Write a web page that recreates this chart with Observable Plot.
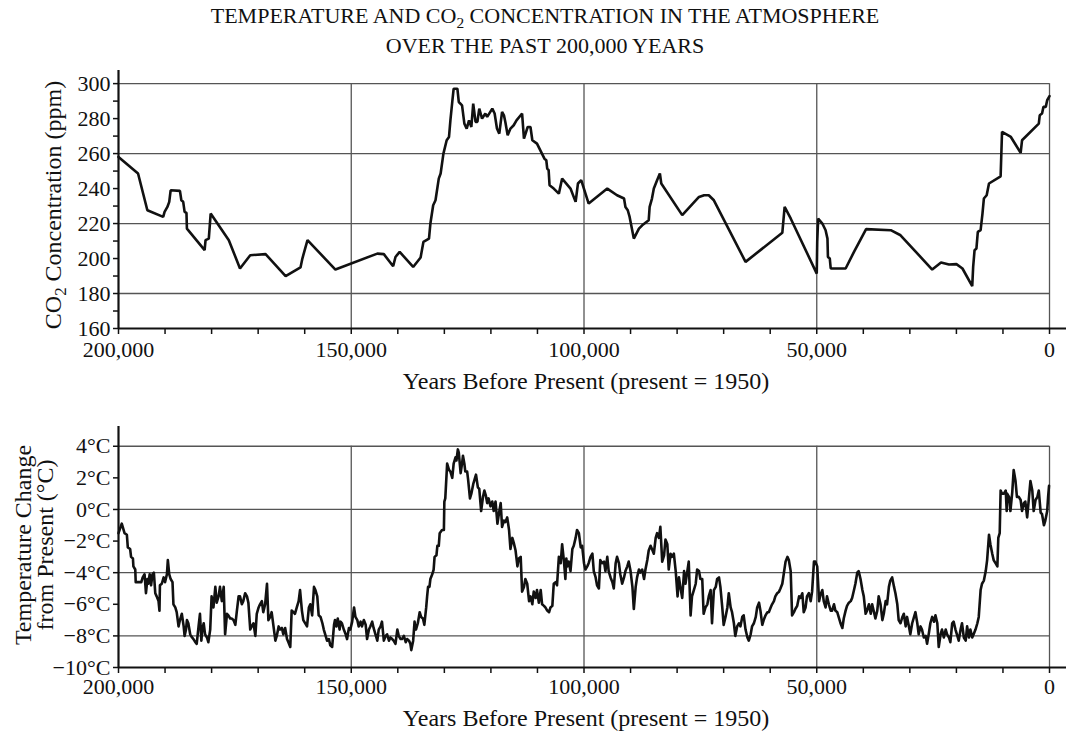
<!DOCTYPE html>
<html>
<head>
<meta charset="utf-8">
<script src="https://cdn.jsdelivr.net/npm/d3@7"></script>
<script src="https://cdn.jsdelivr.net/npm/@observablehq/plot@0.6"></script>
<style>
  body { margin: 0; background: #fff; }
  #wrap { position: relative; width: 1066px; height: 733px; font-family: "Liberation Serif", serif; color: #111; overflow: hidden; }
  .abs { position: absolute; }
  .title { left: -5px; width: 1100px; text-align: center; font-size: 22px; line-height: 22px; white-space: nowrap; }
  .xlab { left: 286px; width: 600px; text-align: center; font-size: 24px; white-space: nowrap; }
  .ylab { font-size: 24px; line-height: 22px; white-space: nowrap; text-align: center; transform: translate(-50%, -50%) rotate(-90deg); }
  sub { font-size: 70%; vertical-align: -0.3em; line-height: 0; }
</style>
</head>
<body>
<div id="wrap">
  <div class="abs title" style="top:5px">TEMPERATURE AND CO<sub>2</sub> CONCENTRATION IN THE ATMOSPHERE</div>
  <div class="abs title" style="top:35px">OVER THE PAST 200,000 YEARS</div>
  <div class="abs" id="top" style="left:0;top:60px"></div>
  <div class="abs" id="bottom" style="left:0;top:400px"></div>
  <div class="abs xlab" style="top:368px">Years Before Present (present = 1950)</div>
  <div class="abs xlab" style="top:705px">Years Before Present (present = 1950)</div>
  <div class="abs ylab" style="left:53px;top:205px">CO<sub>2</sub> Concentration (ppm)</div>
  <div class="abs ylab" style="left:34px;top:545px">Temperature Change<br>from Present (°C)</div>
</div>
<script>
// ---- CO2 record (thousands of years before present, ppm)
const co2Kyr = [200.0,195.8,193.8,190.4,190.1,189.5,189.1,188.8,186.8,186.5,186.1,185.8,185.4,185.3,181.5,181.3,180.6,180.2,176.3,173.9,171.7,168.4,164.1,160.9,160.5,160.0,159.4,153.4,144.4,143.0,141.0,140.5,139.6,136.7,135.1,134.5,133.3,133.0,132.4,131.9,131.2,130.8,130.2,129.5,129.0,128.7,128.3,128.0,127.2,126.9,126.2,125.7,125.2,124.7,124.2,123.8,123.3,122.9,122.5,121.9,121.2,120.8,119.7,119.2,118.7,118.2,117.6,117.2,116.9,116.4,115.8,115.1,114.5,113.3,112.9,112.1,111.5,111.1,110.1,108.5,108.1,107.9,107.6,107.4,106.5,105.4,104.7,102.9,101.8,101.3,100.6,99.0,95.0,92.9,91.4,91.1,90.6,90.2,89.3,88.2,87.5,86.1,85.9,85.4,85.0,84.3,83.7,83.4,78.9,75.3,74.2,73.2,72.1,65.3,57.4,56.9,55.6,50.0,49.9,49.7,48.8,48.1,47.7,47.6,47.2,47.0,43.8,42.0,39.4,34.1,32.0,25.2,23.3,21.6,20.0,18.7,16.6,16.4,16.1,15.7,15.4,14.8,14.4,14.1,13.5,13.0,10.5,10.2,8.3,6.2,5.9,2.3,2.1,1.6,1.3,0.8,0.5,0.0];
const co2Ppm = [258.1,248.6,227.6,223.8,226.7,229.5,232.4,239.0,238.7,233.3,232.4,226.7,226.1,217.1,204.8,210.5,211.4,225.7,210.5,194.3,201.9,202.5,189.9,194.9,200.0,204.8,210.5,193.7,202.8,202.5,195.6,200.9,203.8,195.2,200.6,209.5,211.4,220.0,230.5,233.3,245.7,248.6,260.0,267.6,269.5,279.0,289.5,297.1,297.1,289.5,287.6,277.1,274.3,279.0,275.2,288.6,278.1,278.1,285.7,280.0,282.9,281.0,285.7,282.9,274.3,271.4,283.8,281.9,278.1,270.5,274.3,276.2,279.0,282.9,268.6,275.2,275.2,267.6,265.7,257.1,256.2,251.4,250.5,241.9,240.0,237.1,245.7,240.0,232.4,242.9,244.8,231.4,240.0,236.2,234.3,229.5,227.6,223.8,211.4,217.1,219.0,221.9,229.5,234.3,240.0,244.8,248.6,242.9,224.8,235.2,236.2,236.2,233.3,198.1,214.7,229.5,222.9,191.4,209.5,222.9,220.0,216.2,211.4,200.9,200.0,194.3,194.3,203.8,216.8,216.2,213.3,193.7,197.7,196.6,196.8,194.3,184.2,195.2,204.8,205.7,215.2,216.2,225.7,234.3,236.2,242.9,247.0,272.4,269.5,260.4,267.6,277.1,281.9,282.9,286.7,286.7,290.5,292.8];

// ---- Temperature record (thousands of years before present, °C change from present)
const tempKyr = [200.0,199.3,198.7,198.2,198.0,197.5,197.3,196.9,196.8,196.4,196.3,195.1,194.8,194.4,194.1,193.8,193.6,193.3,193.0,192.7,192.4,192.1,191.8,191.4,191.2,191.1,190.7,190.3,190.0,189.6,189.4,189.1,188.8,188.4,188.2,187.8,187.5,187.1,186.8,186.4,186.0,185.8,185.5,185.3,185.0,184.6,184.2,183.9,183.5,183.2,182.8,182.5,182.2,182.0,181.7,181.4,181.0,180.7,180.3,180.0,179.6,179.2,178.9,178.5,178.2,177.8,177.4,177.1,176.7,176.4,176.0,175.7,175.3,174.9,174.6,174.2,173.9,173.5,173.2,172.8,172.4,172.1,171.7,171.4,171.0,170.6,170.3,169.9,169.6,169.2,168.9,168.5,168.1,167.8,167.4,167.1,166.7,166.3,166.0,165.6,165.3,164.9,164.6,164.2,163.8,163.5,163.1,162.8,162.4,162.1,161.7,161.3,161.0,160.6,160.3,159.5,
159.1,158.8,158.4,158.0,157.7,157.3,157.0,156.6,156.2,155.9,155.5,155.2,154.8,154.5,154.1,153.7,153.5,153.2,152.9,152.5,152.3,152.0,151.6,151.2,150.9,150.5,150.2,149.8,149.4,149.1,148.7,148.4,148.0,147.7,147.3,146.9,146.6,146.2,145.9,145.5,145.2,144.8,144.4,144.1,143.7,143.4,143.0,142.6,142.3,141.9,141.6,141.2,140.9,140.5,140.1,139.8,139.4,139.1,138.7,138.3,138.0,137.6,137.3,137.1,136.7,136.4,136.1,135.7,135.3,135.0,134.6,134.3,133.9,133.7,133.5,133.2,133.0,132.6,132.3,132.1,131.7,131.5,131.2,131.0,130.5,130.1,130.0,129.8,129.4,129.0,128.7,128.3,128.0,127.6,127.4,127.1,126.9,126.5,126.2,126.0,125.7,125.5,125.1,124.9,124.5,124.2,123.8,123.5,123.2,122.8,122.5,122.1,121.7,121.4,121.1,120.8,120.5,120.1,119.7,
119.4,119.0,118.6,118.3,117.9,117.6,117.2,116.9,116.5,116.1,115.8,115.4,115.1,114.7,114.3,114.0,113.6,113.3,112.9,112.6,112.2,111.8,111.5,111.1,110.8,110.4,110.1,109.7,109.3,109.0,108.6,108.3,107.9,107.5,107.2,106.8,106.5,106.1,105.8,105.4,105.0,104.7,104.3,104.0,103.8,103.6,103.3,102.9,102.5,102.2,101.8,101.5,101.1,100.7,100.4,100.0,99.7,99.3,99.0,98.6,98.2,97.9,97.5,97.2,96.8,96.5,96.1,95.7,95.4,95.0,94.7,94.3,93.9,93.6,93.2,92.9,92.5,92.2,91.8,91.4,91.1,90.7,90.4,90.0,89.6,89.3,88.9,88.6,88.2,87.9,87.5,87.1,86.8,86.4,86.1,85.7,85.4,85.0,84.6,84.3,83.9,83.6,83.2,82.8,82.5,82.1,81.8,81.4,81.1,80.7,80.3,79.9,
79.6,79.3,78.9,78.5,78.2,77.8,77.5,77.1,76.8,76.4,76.0,75.7,75.3,75.0,74.6,74.3,73.9,73.5,73.2,72.8,72.5,72.1,71.7,71.4,71.0,70.7,70.3,70.0,69.6,69.2,68.9,68.5,68.2,67.8,67.5,67.1,66.7,66.4,66.0,65.7,65.3,64.9,64.6,64.2,63.9,63.5,63.1,62.8,62.4,62.1,61.7,61.4,61.0,60.6,60.3,59.9,59.6,59.2,58.9,58.5,58.1,57.8,57.4,57.1,56.7,56.3,56.0,55.6,55.3,54.9,54.6,54.2,53.8,53.5,53.1,52.8,52.4,52.1,51.7,51.3,51.0,50.6,50.3,49.9,49.5,49.2,48.8,48.5,48.1,47.8,47.4,47.0,46.7,46.3,46.0,45.6,45.3,44.9,44.5,44.2,43.8,43.5,43.1,42.7,42.4,42.0,41.7,41.3,41.0,40.6,40.2,
39.9,39.5,39.2,38.8,38.4,38.1,37.7,37.4,37.0,36.7,36.3,35.9,35.6,35.2,34.9,34.5,34.2,33.8,33.4,33.1,32.7,32.4,32.0,31.6,31.3,30.9,30.6,30.2,29.9,29.5,29.1,28.8,28.4,28.1,27.7,27.4,27.0,26.6,26.3,25.9,25.6,25.2,24.8,24.5,24.1,23.8,23.4,23.1,22.7,22.3,22.0,21.6,21.3,20.9,20.6,20.2,19.8,19.5,19.1,18.8,18.4,18.0,17.7,17.3,17.0,16.6,16.3,15.9,15.5,15.2,14.8,14.5,14.1,13.7,13.4,13.0,12.7,12.3,12.0,11.6,11.2,11.0,10.7,10.5,10.2,9.8,9.4,9.2,9.1,8.7,8.4,8.0,7.7,7.3,7.0,6.6,6.2,5.9,5.5,5.2,4.8,4.4,4.1,3.7,3.4,3.0,2.6,2.3,1.9,1.6,1.2,0.9,0.5,0.3,0.1];
const tempC = [-1.5,-0.9,-1.5,-1.6,-2.4,-2.5,-3.0,-3.1,-3.6,-3.8,-4.6,-4.6,-4.3,-4.1,-5.3,-4.4,-4.7,-4.1,-4.8,-4.1,-4.0,-5.3,-5.5,-5.8,-6.4,-4.8,-4.7,-4.3,-4.6,-4.1,-3.2,-4.1,-4.4,-4.6,-6.0,-6.2,-6.5,-7.4,-7.0,-6.6,-7.4,-8.0,-7.6,-7.0,-7.2,-7.9,-8.1,-8.2,-8.4,-8.5,-7.4,-6.6,-8.3,-7.6,-7.2,-7.9,-8.1,-8.4,-7.6,-5.5,-6.2,-4.9,-5.9,-5.5,-4.9,-5.8,-4.9,-7.9,-6.6,-6.7,-6.9,-6.9,-7.0,-7.3,-6.5,-5.5,-5.5,-6.0,-5.8,-5.3,-5.5,-5.9,-7.6,-7.4,-7.2,-8.0,-6.6,-6.2,-6.0,-5.8,-6.5,-6.0,-4.7,-7.0,-6.8,-6.5,-7.4,-8.3,-8.0,-7.4,-7.6,-7.5,-7.9,-7.5,-8.2,-8.4,-8.7,-6.4,-6.5,-6.6,-6.2,-5.8,-5.1,-6.4,-7.0,-7.4,
-6.2,-6.0,-6.7,-4.9,-5.1,-5.5,-6.7,-6.8,-7.2,-7.6,-8.0,-8.3,-8.2,-8.6,-8.7,-7.3,-7.0,-7.4,-6.9,-7.6,-7.1,-7.2,-7.6,-7.9,-8.2,-7.5,-7.6,-7.1,-6.2,-6.8,-7.0,-7.4,-7.1,-7.4,-7.0,-7.3,-8.2,-7.6,-7.4,-7.1,-7.5,-7.9,-8.3,-7.6,-7.4,-7.1,-8.3,-8.0,-7.9,-8.3,-8.1,-8.2,-8.3,-8.5,-7.6,-8.0,-8.2,-8.2,-8.0,-8.4,-8.2,-8.3,-8.5,-8.9,-8.3,-7.1,-7.6,-7.2,-6.5,-6.8,-6.9,-7.3,-6.2,-5.5,-4.9,-4.9,-4.4,-4.1,-3.8,-3.0,-2.9,-2.3,-2.3,-1.5,-1.3,-1.3,0.5,0.7,2.9,2.5,2.4,2.0,2.9,3.3,3.1,3.8,3.6,2.3,2.9,3.4,2.9,2.4,2.4,1.9,0.7,1.0,1.6,1.9,2.2,1.4,1.3,-0.1,0.8,1.2,0.9,0.4,0.7,0.2,0.5,
-0.1,0.5,-0.9,-0.3,0.4,-1.1,-0.7,-0.8,-0.5,-1.3,-2.5,-1.8,-2.1,-2.6,-3.6,-3.1,-3.0,-5.2,-4.9,-4.4,-4.7,-5.8,-5.5,-6.0,-5.2,-5.6,-5.1,-5.9,-5.1,-6.0,-6.1,-6.2,-6.4,-6.5,-6.2,-6.1,-4.7,-4.6,-4.8,-3.0,-3.4,-2.2,-3.3,-4.4,-3.1,-3.6,-3.3,-3.9,-2.5,-2.3,-1.8,-1.3,-1.5,-2.4,-2.3,-3.4,-3.8,-3.6,-3.4,-3.0,-2.8,-3.9,-4.3,-4.8,-5.0,-3.2,-3.4,-3.3,-3.9,-3.0,-3.9,-4.3,-4.6,-5.0,-3.4,-3.0,-3.4,-4.1,-4.7,-4.3,-3.9,-3.6,-3.3,-3.9,-4.9,-6.3,-4.9,-4.3,-3.8,-4.0,-3.8,-4.4,-3.8,-3.2,-2.6,-2.3,-2.5,-2.8,-1.8,-1.5,-1.8,-1.1,-3.3,-2.9,-1.9,-2.2,-3.8,-2.8,-3.0,-2.8,-3.9,-5.5,
-4.3,-4.9,-5.6,-3.9,-4.7,-3.9,-3.3,-6.7,-5.5,-5.1,-4.7,-3.8,-3.9,-4.4,-4.4,-6.6,-6.2,-6.0,-5.5,-5.1,-7.2,-5.1,-4.9,-4.4,-4.3,-4.9,-6.2,-7.3,-6.8,-6.2,-5.3,-6.2,-6.5,-7.2,-8.0,-7.4,-7.2,-7.4,-6.8,-6.7,-7.6,-8.1,-8.3,-7.9,-7.4,-7.2,-6.8,-6.2,-5.9,-6.4,-7.3,-7.0,-6.7,-6.5,-6.5,-6.2,-6.0,-5.8,-5.5,-5.3,-5.2,-5.0,-4.7,-4.1,-3.3,-3.0,-3.2,-3.9,-6.7,-6.5,-6.3,-6.1,-5.5,-5.6,-5.3,-6.5,-6.2,-5.5,-5.3,-5.8,-5.2,-3.3,-3.3,-3.6,-5.8,-5.4,-5.1,-5.8,-6.2,-5.5,-6.0,-6.4,-6.4,-6.0,-6.4,-6.5,-6.8,-7.2,-7.5,-6.9,-6.4,-6.1,-5.9,-5.8,-5.6,-5.1,-4.7,-4.0,-3.9,-4.4,-5.1,
-5.5,-6.6,-6.4,-6.0,-6.6,-6.0,-6.5,-6.9,-6.4,-5.5,-6.0,-7.0,-6.6,-5.8,-6.0,-4.9,-4.5,-4.3,-4.9,-5.3,-6.0,-7.0,-7.2,-6.8,-6.6,-7.4,-6.8,-7.4,-7.9,-7.2,-6.8,-6.5,-7.2,-7.9,-7.4,-7.6,-8.1,-8.0,-8.5,-7.8,-7.2,-6.8,-7.1,-6.7,-7.2,-8.7,-7.9,-7.6,-8.1,-7.6,-7.9,-8.1,-8.4,-7.2,-7.1,-7.6,-8.0,-8.3,-7.6,-7.2,-8.1,-8.3,-7.4,-8.1,-7.6,-8.1,-7.9,-7.6,-7.2,-6.8,-5.1,-4.7,-4.5,-3.9,-3.2,-1.6,-2.2,-2.8,-3.2,-3.4,-3.6,-1.8,-1.5,1.2,1.0,1.0,1.2,-0.1,1.0,0.8,-0.1,1.1,2.5,1.8,0.8,0.8,0.6,-0.1,0.4,0.5,-0.5,0.8,1.8,1.2,-0.1,0.6,0.8,1.2,-0.2,-0.3,-1.0,-0.7,-0.1,0.8,1.5];

// ---- Axis ticks and gridlines
const xTicks = d3.range(200000, -1, -10000);
const xLabelEvery = 50000;
const xGrid = [150000, 100000, 50000, 0];
const co2Ticks = d3.range(160, 301, 10);
const co2Grid = [180, 220, 260, 300];
const tempTicks = [4, 2, 0, -2, -4, -6, -8, -10];
const tempGrid = [-8, -4, 0, 4];

const co2Data = co2Kyr.map((k, i) => ({year: k * 1000, ppm: co2Ppm[i]}));
const tempData = tempKyr.map((k, i) => ({year: k * 1000, temp: tempC[i]}));

const INK = "#111";
const GRID = "#555";
const style = {fontFamily: "Liberation Serif", fontSize: "22px", color: INK, background: "transparent", overflow: "visible"};
const fmtX = d => d % xLabelEvery === 0 ? d3.format(",")(d) : "";
const xDomain = [200000, -3650];

const topChart = Plot.plot({
  width: 1066, height: 340,
  marginLeft: 118, marginRight: 0, marginTop: 10, marginBottom: 72,
  style,
  x: {domain: xDomain},
  y: {domain: [160, 307.5]},
  marks: [
    Plot.ruleY(co2Grid, {x1: 200000, x2: 0, stroke: GRID, strokeWidth: 1.3}),
    Plot.ruleX(xGrid, {y1: 160, y2: 300, stroke: GRID, strokeWidth: 1.3}),
    Plot.axisY({ticks: co2Ticks, tickFormat: d => d % 20 === 0 ? String(d) : "", tickSize: 5, tickPadding: 3, label: null, stroke: INK, strokeWidth: 1.5}),
    Plot.axisX({ticks: xTicks, tickFormat: fmtX, tickSize: 6, tickPadding: 7, label: null, stroke: INK, strokeWidth: 1.5}),
    Plot.ruleY([160], {stroke: INK, strokeWidth: 2.2}),
    Plot.ruleX([200000], {stroke: INK, strokeWidth: 2.2}),
    Plot.line(co2Data, {x: "year", y: "ppm", stroke: INK, strokeWidth: 2.6, strokeLinejoin: "miter"})
  ]
});
document.getElementById("top").append(topChart);

const fmtT = d => (d < 0 ? "\u2212" + Math.abs(d) : String(d)) + "°C";
const bottomChart = Plot.plot({
  width: 1066, height: 333,
  marginLeft: 118, marginRight: 0, marginTop: 26, marginBottom: 66,
  style,
  x: {domain: xDomain},
  y: {domain: [-10, 5.25]},
  marks: [
    Plot.ruleY(tempGrid, {x1: 200000, x2: 0, stroke: GRID, strokeWidth: 1.3}),
    Plot.ruleX(xGrid, {y1: -10, y2: 4, stroke: GRID, strokeWidth: 1.3}),
    Plot.axisY({ticks: tempTicks, tickFormat: fmtT, tickSize: 5, tickPadding: 3, label: null, stroke: INK, strokeWidth: 1.5}),
    Plot.axisX({ticks: xTicks, tickFormat: fmtX, tickSize: 6, tickPadding: 5, label: null, stroke: INK, strokeWidth: 1.5}),
    Plot.ruleY([-10], {stroke: INK, strokeWidth: 2.2}),
    Plot.ruleX([200000], {stroke: INK, strokeWidth: 2.2}),
    Plot.line(tempData, {x: "year", y: "temp", stroke: INK, strokeWidth: 2.6})
  ]
});
document.getElementById("bottom").append(bottomChart);
</script>
</body>
</html>
